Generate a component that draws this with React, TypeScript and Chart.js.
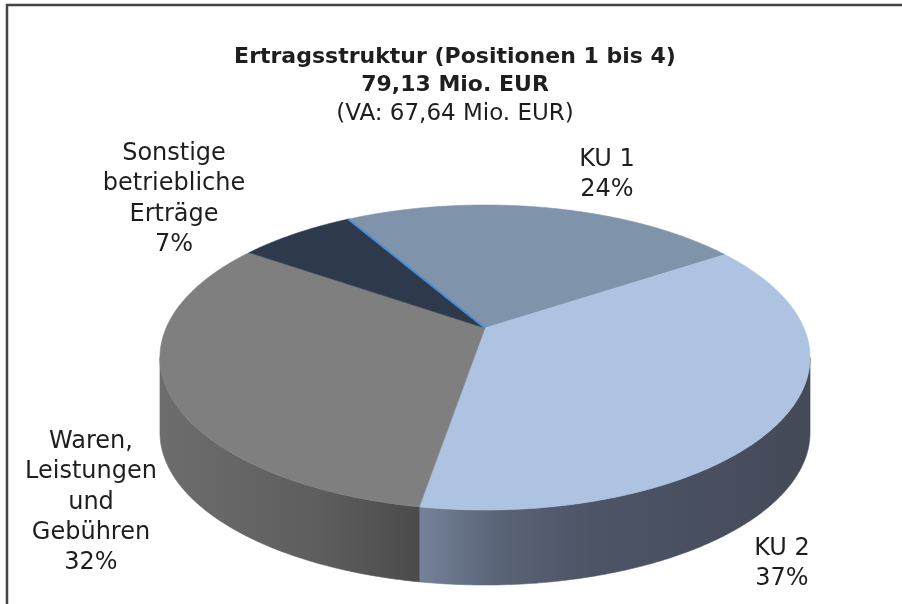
import React, { useEffect, useRef } from "react";
import { Chart, registerables } from "chart.js";

Chart.register(...registerables);

// ---- data ----
const categories = ["KU 1", "KU 2", "Waren, Leistungen und Gebühren", "Sonstige betriebliche Erträge"];
const labelLines = [["KU 1"], ["KU 2"], ["Waren,", "Leistungen", "und", "Gebühren"], ["Sonstige", "betriebliche", "Erträge"]];
const shares = [24, 37, 32, 7];
const titleLines = ["Ertragsstruktur (Positionen 1 bis 4)", "79,13 Mio. EUR"];
const subtitleText = "(VA: 67,64 Mio. EUR)";

// ---- styles ----
const topColors = ["#7f93ab", "#aec3e2", "#7f7f7f", "#2e3a4b"];
const sideStops: [number, string][][] = [
  [[0, "#6a7c94"], [1, "#4a5668"]],
  [[0, "#74829a"], [0.2, "#5a6477"], [0.45, "#4c5466"], [1, "#454a58"]],
  [[0, "#6d6d6d"], [0.6, "#5e5e5e"], [1, "#4b4b4b"]],
  [[0, "#2a3444"], [1, "#1f2733"]],
];
// label block layout: [centerX, firstLineY]
const labelLayout = [
  [607, 160],
  [782, 549],
  [91, 442],
  [174, 154],
];
const FONT = "DejaVu Sans";
const TEXT = "#1e1e1e";

// perspective disc projection (layout)
const P = { cx: 485, cy: 328, a: 318.9, b: 146.8, k: 0.1934, depth: 75 };
function proj(theta: number, r = 1): [number, number] {
  const u = r * Math.cos(theta);
  const v = r * Math.sin(theta);
  const w = 1 - P.k * v;
  return [P.cx + (P.a * u) / w, P.cy + (P.b * v) / w];
}

function rimPath(ctx: CanvasRenderingContext2D, s: number, e: number, dy: number, first: boolean) {
  const n = Math.max(2, Math.ceil(Math.abs(e - s) / (Math.PI / 360)));
  for (let i = 0; i <= n; i++) {
    const t = s + ((e - s) * i) / n;
    const [x, y] = proj(t);
    if (i === 0 && first) ctx.moveTo(x, y + dy);
    else ctx.lineTo(x, y + dy);
  }
}

const pie3d = {
  id: "pie3d",
  beforeDraw(chart: any) {
    const ctx = chart.ctx as CanvasRenderingContext2D;
    ctx.save();
    ctx.fillStyle = "#ffffff";
    ctx.fillRect(0, 0, chart.width, chart.height);
    ctx.strokeStyle = "#444444";
    ctx.lineWidth = 2.5;
    ctx.beginPath();
    ctx.moveTo(7, chart.height + 5);
    ctx.lineTo(7, 5);
    ctx.lineTo(chart.width + 5, 5);
    ctx.stroke();
    ctx.restore();
  },
  beforeDatasetsDraw(chart: any) {
    const ctx = chart.ctx as CanvasRenderingContext2D;
    const meta = chart.getDatasetMeta(0);
    const arcs = meta.data as any[];
    const thR = Math.asin(P.k);
    const thL = Math.PI - thR;
    ctx.save();
    // side walls
    arcs.forEach((arc, i) => {
      let start = arc.startAngle;
      let end = arc.endAngle;
      for (const off of [-2 * Math.PI, 0, 2 * Math.PI]) {
        const s = Math.max(start + off, thR);
        const e = Math.min(end + off, thL);
        if (s >= e) continue;
        const xs = proj(s)[0];
        const xe = proj(e)[0];
        const g = ctx.createLinearGradient(xe, 0, xs, 0);
        sideStops[i].forEach(([p, c]) => g.addColorStop(p, c));
        ctx.beginPath();
        rimPath(ctx, s, e, 0, true);
        rimPath(ctx, e, s, P.depth, false);
        ctx.closePath();
        ctx.fillStyle = g;
        ctx.fill();
        ctx.strokeStyle = g;
        ctx.lineWidth = 0.6;
        ctx.stroke();
      }
    });
    // top faces
    arcs.forEach((arc, i) => {
      ctx.beginPath();
      ctx.moveTo(P.cx, P.cy);
      rimPath(ctx, arc.startAngle, arc.endAngle, 0, false);
      ctx.closePath();
      ctx.fillStyle = topColors[i];
      ctx.fill();
      ctx.strokeStyle = topColors[i];
      ctx.lineWidth = 0.6;
      ctx.stroke();
    });
    // highlighted edge at start of first slice
    const [ex, ey] = proj(arcs[0].startAngle);
    ctx.beginPath();
    ctx.moveTo(P.cx, P.cy);
    ctx.lineTo(ex, ey);
    ctx.strokeStyle = "#4a8fd6";
    ctx.lineWidth = 2;
    ctx.stroke();
    ctx.restore();
    return false;
  },
  afterDraw(chart: any) {
    const ctx = chart.ctx as CanvasRenderingContext2D;
    const data = chart.data.datasets[0].data as number[];
    const total = data.reduce((a, b) => a + b, 0);
    ctx.save();
    ctx.font = `24px "${FONT}"`;
    ctx.fillStyle = TEXT;
    ctx.textAlign = "center";
    ctx.textBaseline = "middle";
    data.forEach((v, i) => {
      const lines = [...labelLines[i], Math.round((v / total) * 100) + "%"];
      const [x, y0] = labelLayout[i];
      lines.forEach((ln, j) => ctx.fillText(ln, x, y0 + j * 30.2));
    });
    ctx.restore();
  },
};

export default function App() {
  const ref = useRef<HTMLCanvasElement | null>(null);
  useEffect(() => {
    if (!ref.current) return;
    const chart = new Chart(ref.current, {
      type: "pie",
      data: {
        labels: categories,
        datasets: [{ data: shares, backgroundColor: topColors, borderWidth: 0 }],
      },
      options: {
        responsive: false,
        animation: false,
        events: [],
        rotation: -30,
        layout: { padding: { left: 8 } },
        plugins: {
          legend: { display: false },
          tooltip: { enabled: false },
          title: {
            display: true,
            text: titleLines,
            color: TEXT,
            font: { family: FONT, size: 22, weight: "bold", lineHeight: 28 / 22 },
            padding: { top: 43, bottom: 0 },
          },
          subtitle: {
            display: true,
            text: subtitleText,
            color: TEXT,
            font: { family: FONT, size: 23, weight: "normal", lineHeight: 29 / 23 },
            padding: { top: 0.5, bottom: 0 },
          },
        },
      } as any,
      plugins: [pie3d as any],
    });
    return () => chart.destroy();
  }, []);
  return (
    <div style={{ position: "absolute", left: 0, top: 0, width: 902, height: 604 }}>
      <canvas ref={ref} width={902} height={604} style={{ display: "block" }} />
    </div>
  );
}
